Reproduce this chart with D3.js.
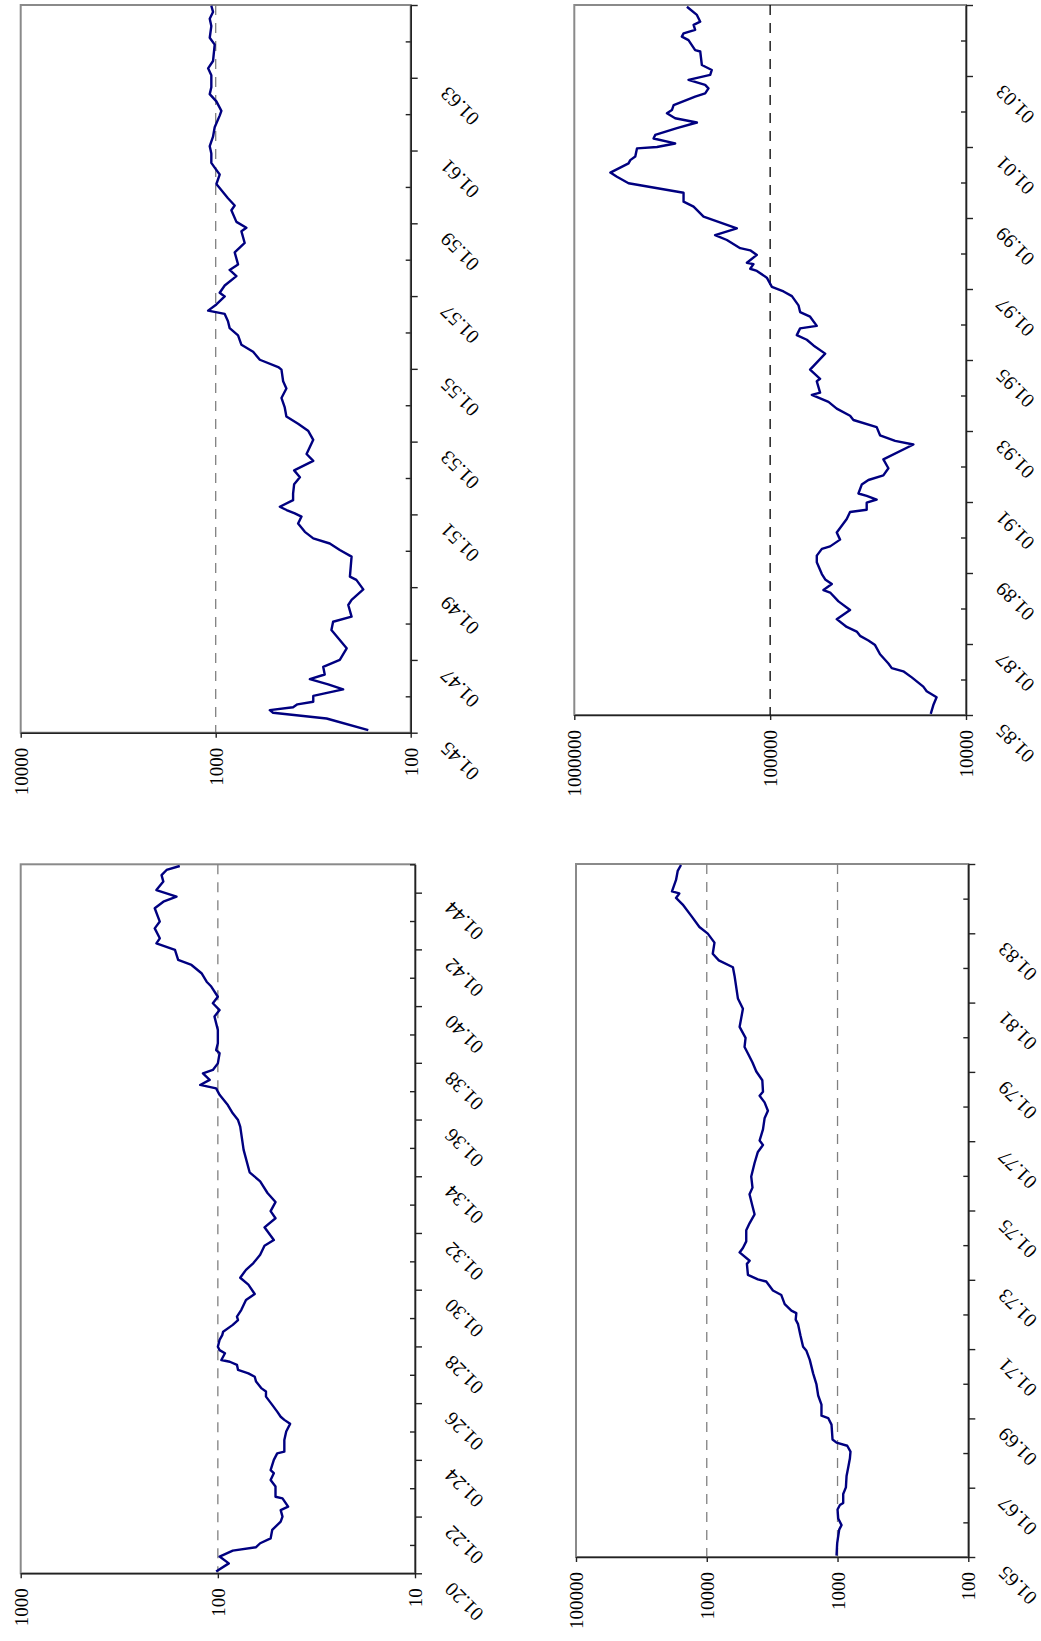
<!DOCTYPE html>
<html>
<head>
<meta charset="utf-8">
<script src="https://cdn.jsdelivr.net/npm/d3@7"></script>
<style>
  body { margin: 0; background: #fff; }
  svg { display: block; }
  svg text { font-family: "Liberation Serif", "Times New Roman", "DejaVu Serif", serif; }
</style>
</head>
<body>
<div id="chart"></div>
<script>
// series: [year, value]
const s1920 = [[1920.06,102],[1920.35,88],[1920.59,98],[1920.80,84],[1920.92,64],[1921.06,61],[1921.23,54],[1921.53,53],[1921.82,48],[1922.0,47],[1922.23,48],[1922.35,44],[1922.64,47],[1922.70,51],[1923.06,51],[1923.29,54],[1923.53,52],[1923.64,54],[1924.0,52],[1924.23,50],[1924.29,46],[1924.70,46],[1925.0,45],[1925.27,43],[1925.41,46],[1925.52,48],[1925.70,50],[1925.94,53],[1926.23,57],[1926.41,57],[1926.52,60],[1926.76,64],[1926.93,65],[1927.05,70],[1927.17,79],[1927.35,80],[1927.46,87],[1927.52,96],[1927.76,92],[1927.87,98],[1927.99,100],[1928.23,98],[1928.40,95],[1928.52,94],[1928.76,84],[1928.93,79],[1929.05,80],[1929.29,76],[1929.64,72],[1929.85,65],[1930.18,70],[1930.42,77],[1930.70,72],[1930.94,66],[1931.23,61],[1931.55,58],[1931.75,52],[1932.20,58],[1932.52,51],[1932.77,54],[1933.09,51],[1933.41,56],[1933.82,61],[1934.14,69],[1934.93,74],[1935.75,77],[1935.98,79],[1936.22,84],[1936.51,89],[1936.87,98],[1937.10,102],[1937.22,123],[1937.40,110],[1937.63,119],[1937.75,106],[1937.98,100],[1938.34,98],[1938.45,102],[1938.69,100],[1939.16,100],[1939.63,104],[1939.86,98],[1940.10,106],[1940.33,100],[1940.69,108],[1940.86,114],[1941.16,121],[1941.45,136],[1941.63,159],[1941.98,165],[1942.21,205],[1942.39,197],[1942.74,209],[1942.98,197],[1943.45,209],[1943.68,189],[1943.86,162],[1944.09,205],[1944.39,189],[1944.62,193],[1944.80,182],[1944.94,156]];

const s1945 = [[1945.07,165],[1945.39,270],[1945.55,508],[1945.62,528],[1945.70,401],[1945.78,381],[1945.85,316],[1946.01,316],[1946.08,276],[1946.19,222],[1946.33,265],[1946.47,329],[1946.60,276],[1946.81,281],[1947.0,231],[1947.32,213],[1947.82,255],[1948.05,250],[1948.19,201],[1948.51,209],[1948.65,201],[1948.94,175],[1949.2,190],[1949.29,205],[1949.84,201],[1950.02,231],[1950.2,260],[1950.34,316],[1950.52,349],[1950.75,378],[1950.94,363],[1951.03,393],[1951.12,433],[1951.21,469],[1951.39,401],[1951.57,401],[1951.83,396],[1952.02,370],[1952.21,396],[1952.47,316],[1952.66,342],[1953.05,316],[1953.3,336],[1953.49,378],[1953.69,434],[1953.95,443],[1954.2,460],[1954.46,434],[1954.66,451],[1954.98,460],[1955.05,478],[1955.25,594],[1955.47,643],[1955.66,738],[1955.92,768],[1956.12,848],[1956.31,865],[1956.51,899],[1956.6,1094],[1956.77,992],[1956.99,899],[1957.09,954],[1957.29,899],[1957.55,783],[1957.72,848],[1957.87,768],[1958.2,799],[1958.46,710],[1958.78,738],[1958.88,696],[1959.04,783],[1959.36,831],[1959.49,799],[1959.69,865],[1960.08,992],[1960.34,954],[1960.53,1012],[1960.66,1053],[1960.92,1053],[1961.12,1073],[1961.38,1032],[1961.64,1012],[1961.96,954],[1962.09,935],[1962.35,992],[1962.55,1073],[1962.74,1053],[1963.07,1053],[1963.26,1094],[1963.46,1032],[1963.91,1012],[1964.1,1073],[1964.42,1053],[1964.62,1073],[1964.81,1032],[1964.98,1053]];

const s1965 = [[1965.04,1018],[1965.4,1006],[1965.79,971],[1965.92,932],[1966.11,988],[1966.37,1000],[1966.5,959],[1966.56,905],[1966.82,905],[1967.01,863],[1967.34,853],[1967.59,828],[1967.85,804],[1968.04,796],[1968.21,843],[1968.3,1018],[1968.39,1092],[1968.82,1112],[1969.01,1179],[1969.08,1327],[1969.4,1327],[1969.66,1406],[1969.98,1449],[1970.3,1537],[1970.69,1630],[1970.95,1729],[1971.07,1834],[1971.4,1923],[1971.72,2004],[1971.85,2089],[1972.04,2066],[1972.11,2254],[1972.3,2535],[1972.56,2690],[1972.69,3119],[1972.95,3510],[1973.01,4066],[1973.14,4844],[1973.46,4933],[1973.55,4700],[1973.79,5610],[1973.92,5290],[1974.11,4990],[1974.43,4990],[1974.63,4710],[1974.89,4310],[1975.15,4490],[1975.47,4710],[1975.66,4470],[1975.98,4570],[1976.37,4310],[1976.69,4066],[1976.89,3716],[1977.02,3944],[1977.34,3716],[1977.66,3613],[1977.88,3407],[1978.12,3613],[1978.31,3944],[1978.43,3716],[1978.76,3760],[1979.01,4180],[1979.27,4470],[1979.53,4844],[1979.72,5140],[1979.98,5050],[1980.3,5610],[1980.82,5290],[1981.12,5780],[1981.77,6130],[1982.02,6310],[1982.22,8090],[1982.41,9000],[1982.73,8730],[1982.99,9820],[1983.18,11380],[1983.51,13180],[1983.83,15270],[1984.02,17180],[1984.15,16220],[1984.21,18450],[1984.54,17180],[1984.8,16680],[1984.97,15740]];

const s1985 = [[1985.03,15140],[1985.28,14680],[1985.5,14130],[1985.67,15880],[1985.8,16520],[1986.06,18920],[1986.23,20900],[1986.32,23940],[1986.45,24900],[1986.71,27470],[1986.97,29130],[1987.1,31500],[1987.23,34750],[1987.35,36140],[1987.48,40640],[1987.7,45710],[1987.96,39080],[1988.2,44780],[1988.45,49400],[1988.52,53450],[1988.69,48430],[1988.82,52360],[1988.97,54450],[1989.3,57790],[1989.49,57790],[1989.68,54450],[1989.75,49400],[1989.94,43960],[1990.14,45710],[1990.52,40640],[1990.72,39080],[1990.78,32140],[1990.98,32140],[1991.07,28580],[1991.17,32140],[1991.24,35430],[1991.49,34070],[1991.62,31500],[1991.75,26420],[1991.95,24900],[1992.2,26420],[1992.62,18560],[1992.72,23010],[1992.88,27470],[1993.11,28580],[1993.31,37580],[1993.43,39080],[1993.63,45710],[1993.82,50350],[1994.02,61240],[1994.08,55590],[1994.4,57790],[1994.47,55590],[1994.73,62520],[1995.18,52360],[1995.41,60100],[1995.57,65000],[1995.7,73110],[1995.89,70310],[1995.96,57790],[1996.22,62520],[1996.35,70310],[1996.54,71660],[1996.8,77430],[1996.93,85450],[1997.06,97990],[1997.32,104000],[1997.51,116900],[1997.57,126400],[1997.7,121600],[1997.74,131500],[1997.96,116900],[1998.09,126400],[1998.15,142200],[1998.38,166300],[1998.52,191000],[1998.71,147900],[1999.04,218800],[1999.32,246000],[1999.46,276800],[1999.71,276800],[1999.98,528400],[2000.16,605800],[2000.28,654600],[2000.54,528400],[2000.63,517900],[2000.73,488300],[2000.96,478600],[2001.0,378400],[2001.10,305500],[2001.24,393900],[2001.34,386300],[2001.53,299300],[2001.69,236600],[2001.81,305500],[2001.95,336600],[2002.04,317400],[2002.18,311000],[2002.42,241500],[2002.51,214700],[2002.65,206500],[2002.75,214700],[2002.89,261200],[2003.03,202300],[2003.17,198600],[2003.31,223200],[2003.69,227500],[2003.73,241500],[2004.01,261200],[2004.11,282400],[2004.20,276800],[2004.30,241500],[2004.44,246000],[2004.53,227500],[2004.72,236600],[2004.95,266000]];

// year spans and value ranges of the four panels
const yearSpans = [[1920, 1945], [1945, 1965], [1965, 1985], [1985, 2005]];
const valueRanges = [[10, 1000], [100, 10000], [100, 100000], [10000, 1000000]];
const gridValues = [[100], [1000], [1000, 10000], [100000]];

// whole page is turned a quarter turn: time runs bottom -> top, values right -> left
const W = 1041, H = 1641;

const svg = d3.select("#chart").append("svg")
    .attr("width", W)
    .attr("height", H);
svg.append("rect").attr("width", W).attr("height", H).attr("fill", "#fff");

// plot boxes: [left, right, top, bottom]
const panels = [
    { series: s1920, i: 0, box: [20.7, 415, 864.3, 1573.3], gridColor: "#808080" },
    { series: s1945, i: 1, box: [20.7, 410.7, 5, 732.7], gridColor: "#808080" },
    { series: s1965, i: 2, box: [576, 968.3, 864, 1557], gridColor: "#808080" },
    { series: s1985, i: 3, box: [574.3, 966, 5, 715], gridColor: "#000" }
];

const yearLabel = v => "01." + String(v % 100).padStart(2, "0");

panels.forEach(drawPanel);

function drawPanel(p) {
    const [l, r, t, b] = p.box;
    const span = yearSpans[p.i];
    const vals = valueRanges[p.i];

    const x = d3.scaleLog().domain(vals).range([r, l]);
    const y = d3.scaleLinear().domain(span).range([b, t]);
    const g = svg.append("g");

    // plot area frame
    g.append("rect")
        .attr("x", l).attr("y", t)
        .attr("width", r - l).attr("height", b - t)
        .attr("fill", "none")
        .attr("stroke", "#8a8a8a")
        .attr("stroke-width", 2);

    // dashed reference lines
    g.selectAll(".grid")
        .data(gridValues[p.i])
        .enter()
        .append("line")
        .attr("class", "grid")
        .attr("x1", d => x(d)).attr("x2", d => x(d))
        .attr("y1", t).attr("y2", b)
        .attr("stroke", p.gridColor)
        .attr("stroke-width", 1.3)
        .attr("stroke-dasharray", "10,8");

    // the series
    g.append("path")
        .datum(p.series)
        .attr("fill", "none")
        .attr("stroke", "#000080")
        .attr("stroke-width", 2.4)
        .attr("stroke-linejoin", "round")
        .attr("d", d3.line().x(d => x(d[1])).y(d => y(d[0])));

    // value axis (log, along the bottom)
    const lo = Math.round(Math.log10(vals[0])), hi = Math.round(Math.log10(vals[1]));
    const decades = d3.range(lo, hi + 1).map(e => Math.pow(10, e));
    const valAxis = g.append("g")
        .attr("transform", `translate(0,${b})`)
        .call(d3.axisBottom(x).tickValues(decades).tickFormat(d3.format("d")).tickSize(5).tickSizeOuter(0));
    valAxis.selectAll("text")
        .attr("x", -15).attr("y", 0).attr("dy", "0.35em")
        .attr("text-anchor", "end")
        .attr("transform", "rotate(-90)")
        .attr("fill", "#000")
        .style("font-size", "19px");

    // time axis (along the right side), labels every second year
    const years = d3.range(span[0], span[1] + 1);
    const major = years.filter(v => (v - span[0]) % 2 === 0);
    const minor = years.filter(v => (v - span[0]) % 2 === 1);

    const minorAxis = g.append("g")
        .attr("transform", `translate(${r},0)`)
        .call(d3.axisRight(y).tickValues(minor).tickSize(-5).tickSizeOuter(0).tickFormat(""));
    minorAxis.select(".domain").remove();

    const dateAxis = g.append("g")
        .attr("transform", `translate(${r},0)`)
        .call(d3.axisRight(y).tickValues(major).tickSize(7).tickSizeOuter(0)
            .tickFormat(v => v === span[1] ? "" : yearLabel(v)));
    dateAxis.selectAll("text")
        .attr("x", 0).attr("dy", "0.35em")
        .attr("text-anchor", "middle")
        .attr("transform", "translate(49,28) rotate(-135)")
        .attr("fill", "#000")
        .style("font-size", "20px");

    [valAxis, dateAxis, minorAxis].forEach(a => {
        a.selectAll(".domain").attr("stroke", "#222").attr("stroke-width", 1.6);
        a.selectAll(".tick line").attr("stroke", "#222").attr("stroke-width", 1.4);
    });
}
</script>
</body>
</html>
